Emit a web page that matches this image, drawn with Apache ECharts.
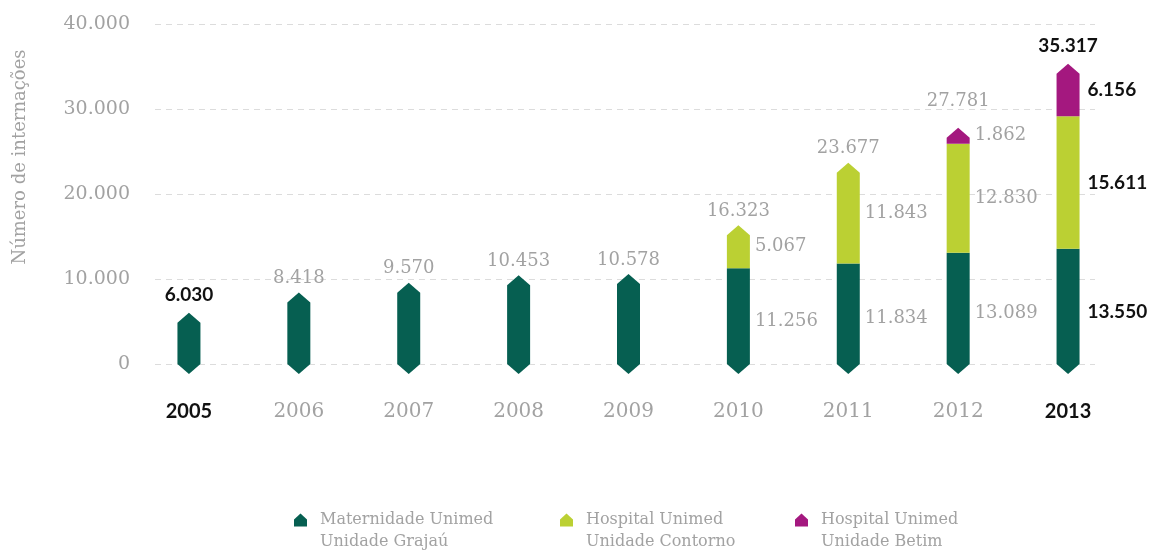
<!DOCTYPE html>
<html>
<head>
<meta charset="utf-8">
<script src="https://cdn.jsdelivr.net/npm/echarts@6/dist/echarts.min.js"></script>
<style>
  html, body { margin: 0; padding: 0; background: #fff; }
  #chart { width: 1152px; height: 557px; }
</style>
</head>
<body>
<div id="chart"></div>
<script>
// dados
var years = ['2005', '2006', '2007', '2008', '2009', '2010', '2011', '2012', '2013']
var grajau = [6030, 8418, 9570, 10453, 10578, 11256, 11834, 13089, 13550]
var contorno = [0, 0, 0, 0, 0, 5067, 11843, 12830, 15611]
var betim = [0, 0, 0, 0, 0, 0, 0, 1862, 6156]
var seriesNames = ['Maternidade Unimed\nUnidade Grajaú', 'Hospital Unimed\nUnidade Contorno', 'Hospital Unimed\nUnidade Betim']
var seriesColors = ['#065f51', '#bbd033', '#a4187f']

var stacks = [grajau, contorno, betim]
var GRAY = '#a2a2a2'
var SERIF = '"DejaVu Serif", serif'
var SANS = 'Lato, "Open Sans", sans-serif'

function fmt(n) {
  return String(n).replace(/\B(?=(\d{3})+(?!\d))/g, '.')
}

function isBold(i) {
  return i === 0 || i === years.length - 1
}

// monta os segmentos empilhados
function buildSegments(s) {
  var out = []
  for (var i = 0; i < years.length; i++) {
    var v = stacks[s][i]
    if (!v) continue
    var start = 0
    for (var k = 0; k < s; k++) start += stacks[k][i]
    var isTop = 1
    var count = 0
    for (var k2 = 0; k2 < stacks.length; k2++) {
      if (stacks[k2][i]) count++
      if (k2 > s && stacks[k2][i]) isTop = 0
    }
    var total = 0
    for (var k3 = 0; k3 < stacks.length; k3++) total += stacks[k3][i]
    out.push([i, start, start + v, v, s === 0 ? 1 : 0, isTop, count > 1 ? 1 : 0, total])
  }
  return out
}

function renderItem(params, api) {
  var i = api.value(0)
  var p0 = api.coord([i, api.value(1)])
  var p1 = api.coord([i, api.value(2)])
  var cx = p0[0]
  var yS = p0[1]
  var yE = p1[1]
  var hw = 11.5
  var th = 10
  var isBottom = api.value(4)
  var isTop = api.value(5)
  var multi = api.value(6)
  var pts = []
  if (isTop) {
    pts.push([cx - hw, yE + th], [cx, yE], [cx + hw, yE + th])
  } else {
    pts.push([cx - hw, yE], [cx + hw, yE])
  }
  if (isBottom) {
    pts.push([cx + hw, yS], [cx, yS + th], [cx - hw, yS])
  } else {
    pts.push([cx + hw, yS], [cx - hw, yS])
  }
  var children = [{
    type: 'polygon',
    shape: { points: pts },
    style: { fill: api.visual('color') }
  }]
  var bold = isBold(i)
  var segMid = (yE + yS + (isBottom ? th : 0)) / 2
  if (multi) {
    children.push({
      type: 'text',
      x: cx + hw + (bold ? 8 : 5),
      y: segMid,
      style: {
        text: fmt(api.value(3)),
        fill: bold ? '#111' : GRAY,
        fontFamily: bold ? SANS : SERIF,
        fontWeight: bold ? 'bold' : 'normal',
        fontSize: bold ? 19 : 18,
        align: 'left',
        verticalAlign: 'middle'
      }
    })
  }
  if (isTop) {
    var ty = yE - (bold ? 18 : 14)
    if (multi && (yS - yE) < 30) ty = Math.min(ty, segMid - 34)
    children.push({
      type: 'text',
      x: cx,
      y: ty,
      style: {
        text: fmt(api.value(7)),
        fill: bold ? '#111' : GRAY,
        fontFamily: bold ? SANS : SERIF,
        fontWeight: bold ? 'bold' : 'normal',
        fontSize: bold ? 19 : 18,
        align: 'center',
        verticalAlign: 'middle'
      }
    })
  }
  return { type: 'group', children: children }
}

var legendLefts = [294, 560, 795]
var legends = seriesNames.map(function(name, s) {
  return {
    data: [name],
    left: legendLefts[s],
    top: 490,
    padding: 0,
    itemWidth: 13,
    itemHeight: 13,
    selectedMode: false,
    icon: 'path://M6.5,0 L13,6 L13,13 L0,13 L0,6 Z',
    formatter: function(n) {
      // linha vazia em cima para que a primeira linha fique alinhada ao ícone
      return '{s| }\n' + n.split('\n').map(function(t) { return '{a|' + t + '}' }).join('\n')
    },
    textStyle: {
      color: GRAY,
      fontFamily: SERIF,
      fontSize: 16,
      rich: {
        s: { fontSize: 16, lineHeight: 22 },
        a: { color: GRAY, fontFamily: SERIF, fontSize: 16, lineHeight: 22, padding: [0, 0, 0, 8] }
      }
    }
  }
})

var chart = echarts.init(document.getElementById('chart'))
chart.setOption({
  animation: false,
  grid: [
    { left: 155, right: 57, top: 24, bottom: 193 },
    { left: 134, right: 29, top: 24, bottom: 193 }
  ],
  legend: legends,
  xAxis: [
    { gridIndex: 0, type: 'value', show: false, min: 0, max: 1 },
    {
      gridIndex: 1,
      type: 'category',
      data: years,
      axisLine: { show: false },
      axisTick: { show: false },
      axisLabel: {
        interval: 0,
        margin: 38,
        fontSize: 20,
        fontFamily: SERIF,
        color: GRAY,
        formatter: function(v, idx) {
          return isBold(idx) ? '{b|' + v + '}' : v
        },
        rich: {
          b: { fontSize: 20, fontWeight: 'bold', fontFamily: SANS, color: '#111' }
        }
      }
    }
  ],
  yAxis: [
    {
      gridIndex: 0,
      type: 'value',
      min: 0,
      max: 40000,
      interval: 10000,
      name: 'Número de internações',
      nameLocation: 'middle',
      nameGap: 126,
      nameTextStyle: { color: GRAY, fontFamily: SERIF, fontSize: 18, padding: [0, 0, 0, 74] },
      axisLine: { show: false },
      axisTick: { show: false },
      axisLabel: {
        margin: 25,
        fontSize: 19,
        fontFamily: SERIF,
        color: GRAY,
        formatter: function(v) { return fmt(v) }
      },
      splitLine: { lineStyle: { color: '#dcdcdc', type: [6, 5], width: 1 } }
    },
    { gridIndex: 1, type: 'value', min: 0, max: 40000, show: false, splitLine: { show: false } }
  ],
  series: seriesNames.map(function(name, s) {
    return {
      type: 'custom',
      name: name,
      xAxisIndex: 1,
      yAxisIndex: 1,
      itemStyle: { color: seriesColors[s] },
      renderItem: renderItem,
      data: buildSegments(s)
    }
  })
})
</script>
</body>
</html>
